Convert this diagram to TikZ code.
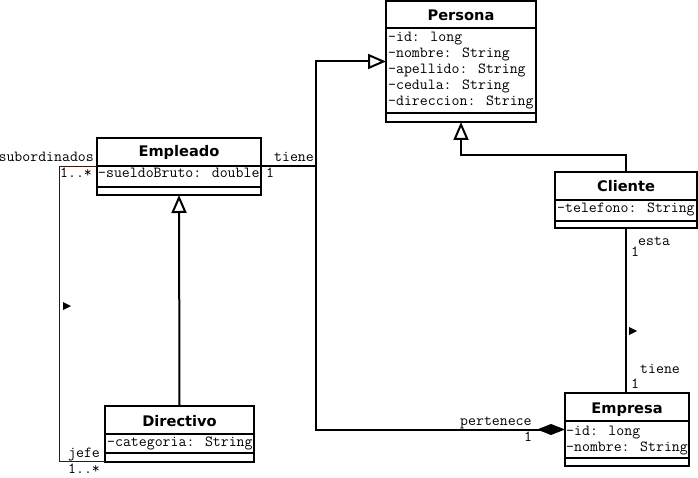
\documentclass[tikz,border=0pt]{standalone}
\usepackage{fontspec}
\newfontfamily\titlefamily{DejaVu Sans}
\usetikzlibrary{arrows.meta,calc}
\definecolor{selfcol}{RGB}{60,20,20}
\newcommand\monof{\ttfamily\fontsize{15.4}{16}\selectfont}
\newcommand\titlef{\titlefamily\bfseries\fontsize{14.6}{16}\selectfont}
\tikzset{
  umlbox/.style={draw, line width=2pt, inner sep=0pt, outer sep=0pt, anchor=north west},
  sepline/.style={line width=2pt},
  attr/.style={anchor=base west, inner sep=0pt, font=\monof},
  lbl/.style={anchor=base west, inner sep=0pt, font=\monof},
  lblr/.style={anchor=base east, inner sep=0pt, font=\monof},
  ttl/.style={anchor=base, inner sep=0pt, font=\titlef},
  conn/.style={line width=2pt},
  gen/.style={conn, -{Triangle[open, length=18pt, width=15pt, line width=2pt]}},
  comp/.style={conn, -{Diamond[length=28pt, width=11pt, fill=black]}},
  selfassoc/.style={line width=1pt, draw=selfcol},
  marker/.style={fill=black},
}
\begin{document}
\begin{tikzpicture}[x=1pt, y=-1pt]
\useasboundingbox (0,0) rectangle (698,478);

% Persona
\node[umlbox, minimum width=150pt, minimum height=121pt] (persona) at (386,1) {};
\node[ttl] (personat) at (461,21) {Persona};
\draw[sepline] (386,28) -- (536,28);
\node[attr] (p1) at (388,42) {-id: long};
\node[attr] (p2) at (388,58) {-nombre: String};
\node[attr] (p3) at (388,74) {-apellido: String};
\node[attr] (p4) at (388,90) {-cedula: String};
\node[attr] (p5) at (388,106) {-direccion: String};
\draw[sepline] (386,113) -- (536,113);

% Empleado
\node[umlbox, minimum width=164pt, minimum height=57pt] (empleado) at (97,138) {};
\node[ttl] (empleadot) at (179,157) {Empleado};
\draw[sepline] (97,166) -- (261,166);
\node[attr] (e1) at (98,178) {-sueldoBruto: double};
\draw[sepline] (97,187) -- (261,187);

% Cliente
\node[umlbox, minimum width=142pt, minimum height=56pt] (cliente) at (555,172) {};
\node[ttl] (clientet) at (626,192) {Cliente};
\draw[sepline] (555,200) -- (697,200);
\node[attr] (c1) at (557,213) {-telefono: String};
\draw[sepline] (555,221) -- (697,221);

% Directivo
\node[umlbox, minimum width=149pt, minimum height=56pt] (directivo) at (105,406) {};
\node[ttl] (directivot) at (179.5,426) {Directivo};
\draw[sepline] (105,434) -- (254,434);
\node[attr] (d1) at (107,446) {-categoria: String};
\draw[sepline] (105,453) -- (254,453);

% Empresa
\node[umlbox, minimum width=124pt, minimum height=73pt] (empresa) at (565,393) {};
\node[ttl] (empresat) at (627,413) {Empresa};
\draw[sepline] (565,421) -- (689,421);
\node[attr] (em1) at (566,435) {-id: long};
\node[attr] (em2) at (566,451) {-nombre: String};
\draw[sepline] (565,458) -- (689,458);

% Connectors
\draw[gen] (empleado.east) -- ++(55,0) coordinate (j) |- (persona.west);
\draw[comp] (j) |- (empresa.west);
\draw[gen] (cliente.north) -- ++(0,-17) -| (persona.south);
\draw[gen] (directivo.north) -- (empleado.south);
\draw[conn] (cliente.south) -- (cliente.south |- empresa.north);
\draw[selfassoc] (empleado.west) -- ++(-38,0) |- ($(directivo.south west)+(0,-1)$);

% Labels
\node[lblr] (l1) at (314,162) {tiene};
\node[lbl] (l2) at (266,178) {1};
\node[lblr] (l3) at (94,162) {subordinados};
\node[lbl] (l4) at (60,178) {1..*};
\node[lbl] (l5) at (68,457) {jefe};
\node[lbl] (l6) at (68,473) {1..*};
\node[lbl] (l7) at (460,425) {pertenece};
\node[lbl] (l8) at (524,441) {1};
\node[lbl] (l9) at (638,246) {esta};
\node[lbl] (l10) at (631,257) {1};
\node[lbl] (l11) at (640,373) {tiene};
\node[lbl] (l12) at (631,388) {1};

% Direction markers
\fill[marker] (63,302) -- (63,310) -- (71,306) -- cycle;
\fill[marker] (629,327) -- (629,335) -- (637,331) -- cycle;
\end{tikzpicture}
\end{document}
